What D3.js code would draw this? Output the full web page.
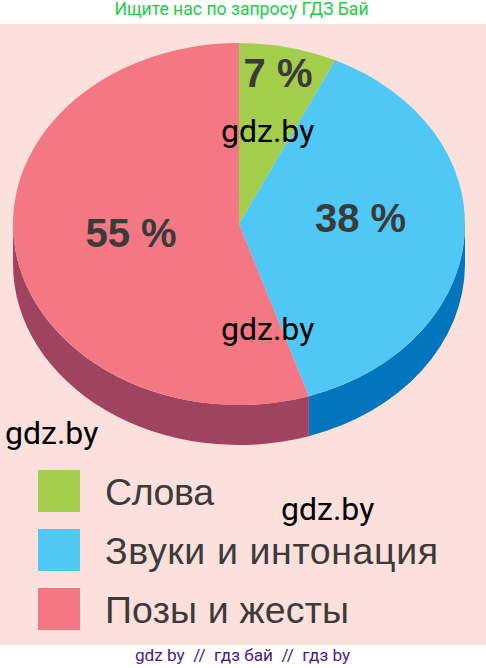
<!DOCTYPE html>
<html><head><meta charset="utf-8">
<script src="https://cdn.jsdelivr.net/npm/d3@7"></script>
<style>html,body{margin:0;padding:0;background:#fff}svg{display:block}</style></head>
<body><svg id="c" width="486" height="668"></svg>
<script>
const categories = ["Слова", "Звуки и интонация", "Позы и жесты"];
const values = [7, 38, 55];
const labels = ["7 %", "38 %", "55 %"];
const topColors = ["#A3CE4B", "#50C8F6", "#F47784"];
const sideColors = ["#7E9F3A", "#0175BE", "#A04361"];
const watermarks = ["gdz.by", "gdz.by", "gdz.by", "gdz.by"];

const svg = d3.select("#c");
const cx = 239, cy = 224, rx = 226, ry = 181, depth = 40;
svg.append("rect").attr("x",0).attr("y",24).attr("width",486).attr("height",621).attr("fill","#FCE0DC");

svg.append("text").attr("x",241.5).attr("y",15).attr("text-anchor","middle")
  .attr("font-family","Roboto").attr("font-size",17.6).attr("fill","#22CC44").text("Ищите нас по запросу ГДЗ Бай");
svg.append("text").attr("x",242.5).attr("y",661).attr("text-anchor","middle")
  .attr("font-family","Roboto").attr("font-size",17.2).attr("fill","#4B1A8C").style("white-space","pre")
  .text("gdz by  //  гдз бай  //  гдз by");

const arcs = d3.pie().sort(null).value(d=>d)(values);
const arcGen = d3.arc().innerRadius(0).outerRadius(rx);
const ex = a => cx + rx*Math.sin(a), ey = a => cy - ry*Math.cos(a);

// side wall: only the part of each slice on the front half of the ellipse
const front = [Math.PI/2, 3*Math.PI/2];
arcs.forEach((d,i)=>{
  const a0 = Math.max(d.startAngle, front[0]), a1 = Math.min(d.endAngle, front[1]);
  if (a1 <= a0) return;
  const p = `M${ex(a0)},${ey(a0)} A${rx},${ry} 0 0 1 ${ex(a1)},${ey(a1)} L${ex(a1)},${ey(a1)+depth} A${rx},${ry} 0 0 0 ${ex(a0)},${ey(a0)+depth} Z`;
  svg.append("path").attr("d",p).attr("fill",sideColors[i]);
});
// top face
const face = svg.append("g").attr("transform",`translate(${cx},${cy}) scale(1,${ry/rx})`);
face.selectAll("path").data(arcs).join("path").attr("d",arcGen).attr("fill",(d,i)=>topColors[i]);

// percent labels
const lpos = [[278,87],[360.5,232],[131,247]];
svg.selectAll("text.p").data(labels).join("text").attr("class","p")
  .attr("x",(d,i)=>lpos[i][0]).attr("y",(d,i)=>lpos[i][1]).attr("text-anchor","middle")
  .attr("font-family","Liberation Sans").attr("font-weight","bold").attr("font-size",40).attr("fill","#3A3A3A").text(d=>d);

// legend
const legY = d3.scalePoint().domain(categories).range([470,588]);
const legLen = [109, 333, 244];
categories.forEach((c,i)=>{
  svg.append("rect").attr("x",38).attr("y",legY(c)).attr("width",42).attr("height",42).attr("fill",topColors[i]);
  svg.append("text").attr("x",105).attr("y",legY(c)+35).attr("font-family","Liberation Sans").attr("font-size",37.5)
    .attr("textLength",legLen[i]).attr("lengthAdjust","spacing")
    .attr("fill","#3D3A3A").text(c);
});

// watermarks
const wpos = [[221,142],[221,340],[5,444],[281,520]];
svg.selectAll("text.w").data(watermarks).join("text").attr("class","w")
  .attr("x",(d,i)=>wpos[i][0]).attr("y",(d,i)=>wpos[i][1])
  .attr("font-family","Roboto").attr("font-size",32).attr("fill","#000").text(d=>d);
</script></body></html>
